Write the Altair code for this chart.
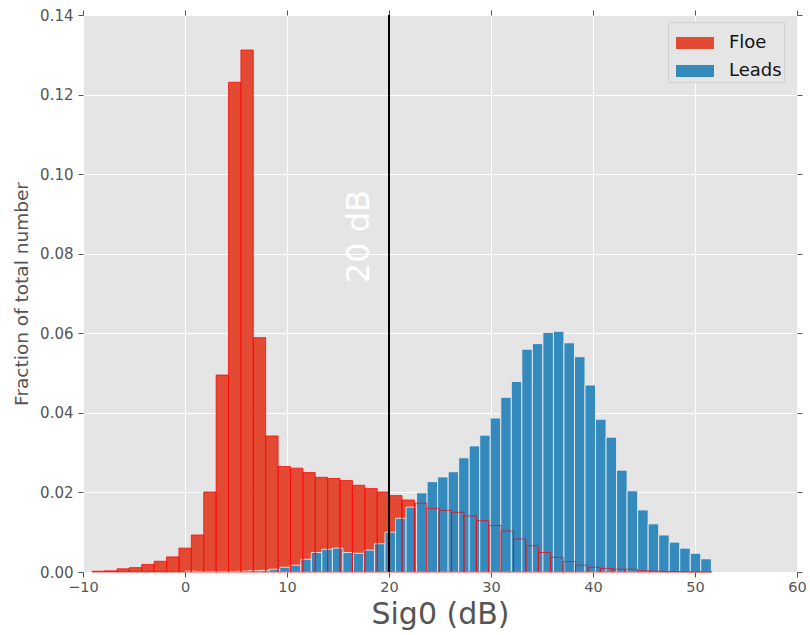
import altair as alt
import pandas as pd

# Histogram definitions: first bin edge, bin width, and fraction per bin
floe_start = -9.1
floe_width = 1.215
floe_frac = [
    0.0002, 0.0003, 0.0008, 0.0011, 0.0019, 0.0027, 0.0038, 0.0060, 0.0093, 0.0201,
    0.0495, 0.1231, 0.1312, 0.0589, 0.0342, 0.0265, 0.0261, 0.0250, 0.0238, 0.0235,
    0.0230, 0.0218, 0.0210, 0.0201, 0.0192, 0.0181, 0.0173, 0.0160, 0.0155, 0.0150,
    0.0141, 0.0129, 0.0117, 0.0103, 0.0083, 0.0066, 0.0049, 0.0037, 0.0026, 0.0017,
    0.0012, 0.0009, 0.0007, 0.0007, 0.0003, 0.0002, 0.0001, 0.0001, 0.00005, 0.00005,
]

leads_start = 0.0
leads_width = 1.032
leads_frac = [
    0.0002, 0.0001, 0.0001, 0.0001, 0.0001, 0.0002, 0.0003, 0.0004, 0.0007, 0.0012,
    0.0017, 0.0032, 0.0049, 0.0057, 0.0060, 0.0049, 0.0047, 0.0055, 0.0071, 0.0100,
    0.0135, 0.0163, 0.0199, 0.0227, 0.0239, 0.0252, 0.0287, 0.0317, 0.0344, 0.0387,
    0.0439, 0.0479, 0.0560, 0.0574, 0.0602, 0.0605, 0.0576, 0.0541, 0.0470, 0.0384,
    0.0339, 0.0256, 0.0204, 0.0156, 0.0121, 0.0093, 0.0075, 0.0060, 0.0047, 0.0033,
]

series_names = ["Floe", "Leads"]
series_colors = ["#E24A33", "#348ABD"]

threshold_db = [20]
threshold_label = ["20 dB"]
label_pos_db = [17.1]
label_pos_frac = [0.0843]

x_ticks = [-10, 0, 10, 20, 30, 40, 50, 60]
y_ticks = [0.00, 0.02, 0.04, 0.06, 0.08, 0.10, 0.12, 0.14]


def hist_table(start, width, values, name):
    return pd.DataFrame({
        "lo": [start + k * width for k in range(len(values))],
        "hi": [start + (k + 1) * width for k in range(len(values))],
        "frac": values,
        "series": [name] * len(values),
    })


floe = hist_table(floe_start, floe_width, floe_frac, "Floe")
leads = hist_table(leads_start, leads_width, leads_frac, "Leads")

x_scale = alt.Scale(domain=[-10, 60], nice=False)
y_scale = alt.Scale(domain=[0, 0.14], nice=False)

x_axis = alt.Axis(orient="bottom", values=x_ticks, title="Sig0 (dB)", grid=True, domain=False,
                  labelFontSize=14.5, titleFontSize=30, labelPadding=3, titlePadding=6,
                  labelFlush=False)
y_axis = alt.Axis(orient="left", values=y_ticks, format=".2f", title="Fraction of total number",
                  grid=True, domain=False, labelFontSize=15, titleFontSize=18.5,
                  labelPadding=5, titlePadding=8, labelFlush=False)

# mirrored tick marks on the top and right edges
x_top = alt.Axis(orient="top", values=x_ticks, labels=False, grid=False, domain=False, title=None)
y_right = alt.Axis(orient="right", values=y_ticks, labels=False, grid=False, domain=False, title=None)

color = alt.Color(
    "series:N",
    scale=alt.Scale(domain=series_names, range=series_colors),
    legend=alt.Legend(
        title=None, orient="none", legendX=585, legendY=7,
        fillColor="#E5E5E5", strokeColor="#D0D0D0", padding=2,
        labelFontSize=18, labelColor="#111111", labelOffset=15, symbolOffset=6,
        symbolType="M-1,-0.32L1,-0.32L1,0.32L-1,0.32Z", symbolSize=1444,
        symbolStrokeWidth=0, symbolOpacity=1, rowPadding=0,
    ),
)

zero = alt.Y2(datum=0)

floe_fill = alt.Chart(floe).mark_bar(strokeWidth=0).encode(
    x=alt.X("lo:Q", scale=x_scale, axis=x_axis),
    x2="hi:Q",
    y=alt.Y("frac:Q", scale=y_scale, axis=y_axis, stack=None),
    y2=zero,
    color=color,
)

leads_fill = alt.Chart(leads).mark_bar(stroke="#EEEEEE", strokeWidth=1, strokeOpacity=0.85).encode(
    x=alt.X("lo:Q", axis=None), x2="hi:Q",
    y=alt.Y("frac:Q", stack=None, axis=None), y2=zero, color=color,
)

floe_edge = alt.Chart(floe).mark_bar(
    fillOpacity=0, stroke="#FF0000", strokeOpacity=0.72, strokeWidth=1
).encode(
    x=alt.X("lo:Q", axis=None), x2="hi:Q",
    y=alt.Y("frac:Q", stack=None, axis=None), y2=zero,
)

rule_df = pd.DataFrame({"db": threshold_db})
threshold = alt.Chart(rule_df).mark_rule(color="#000000", strokeWidth=2).encode(
    x=alt.X("db:Q", scale=x_scale, axis=x_top),
)

text_df = pd.DataFrame({"db": label_pos_db, "frac": label_pos_frac, "txt": threshold_label})
threshold_text = alt.Chart(text_df).mark_text(
    angle=270, fontSize=32, color="#FFFFFF", align="center", baseline="middle"
).encode(
    x=alt.X("db:Q", axis=None),
    y=alt.Y("frac:Q", scale=y_scale, axis=y_right),
    text="txt:N",
)

chart = alt.layer(floe_fill, leads_fill, floe_edge, threshold, threshold_text).properties(
    width=714, height=557,
    autosize=alt.AutoSizeParams(type="none"),
    padding={"left": 83, "top": 15, "right": 13, "bottom": 63},
).configure(
    font="DejaVu Sans",
    background="#FFFFFF",
).configure_view(
    fill="#E5E5E5", stroke="#E5E5E5", strokeWidth=0,
).configure_axis(
    gridColor="#FFFFFF", gridWidth=1, gridOpacity=1,
    tickColor="#555555", tickSize=5, tickWidth=1,
    labelColor="#555555", titleColor="#555555",
    labelFont="DejaVu Sans", titleFont="DejaVu Sans", titleFontWeight="normal",
).configure_legend(
    labelFont="DejaVu Sans",
)

chart.save("out.html", embed_options={"renderer": "svg", "actions": False})
